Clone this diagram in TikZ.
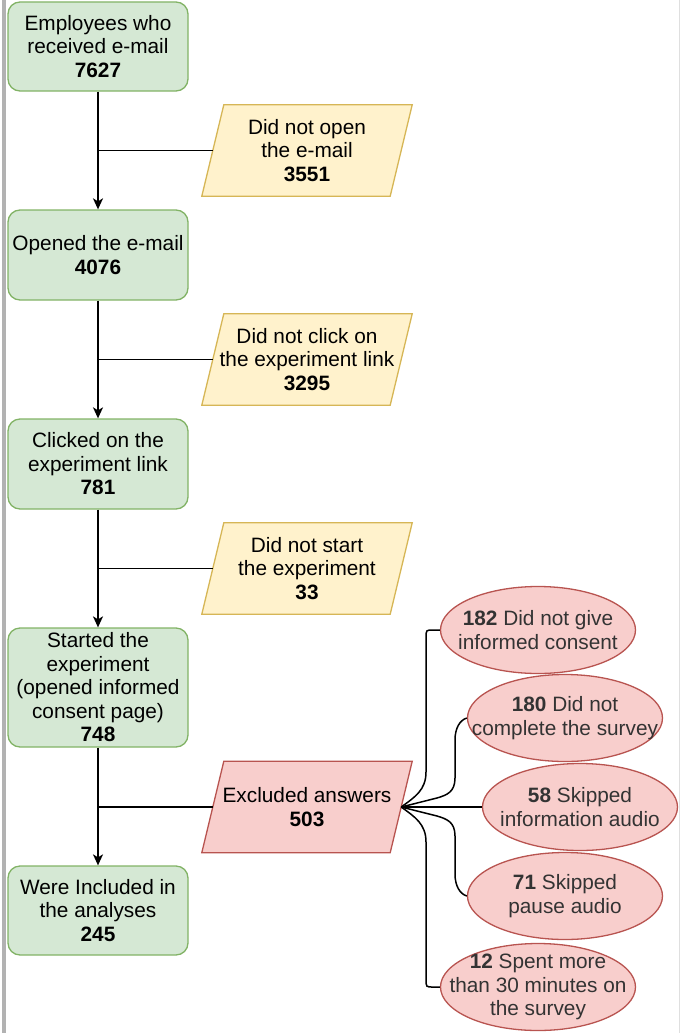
\documentclass[tikz,border=0pt]{standalone}
\usepackage{fontspec}
\setmainfont{Liberation Sans}
\usetikzlibrary{shapes.geometric,arrows.meta}
\definecolor{gfill}{HTML}{D5E8D4}
\definecolor{gline}{HTML}{82B366}
\definecolor{yfill}{HTML}{FFF2CC}
\definecolor{yline}{HTML}{D6B656}
\definecolor{rfill}{HTML}{F8CECC}
\definecolor{rline}{HTML}{B85450}
\definecolor{etext}{HTML}{333333}
\begin{document}
\begin{tikzpicture}[x=1pt,y=-1pt,
  font=\fontsize{20.8}{23.5}\selectfont,
  gbox/.style={draw=gline, fill=gfill, rounded corners=12pt, line width=1.3pt,
    minimum width=180pt, align=center, inner sep=2pt},
  pbox/.style={rectangle, minimum width=188pt, minimum height=91pt, inner sep=0pt},
  ypara/.style={draw=yline, fill=yfill, line width=1.3pt},
  rpara/.style={draw=rline, fill=rfill, line width=1.3pt},
  ell/.style={ellipse, draw=rline, fill=rfill, line width=1.3pt,
    minimum width=195pt, minimum height=87pt, inner sep=0pt},
  ctext/.style={align=center, inner sep=0pt},
  etxt/.style={align=center, inner sep=0pt, text=etext},
  conn/.style={line width=1.5pt, draw=black},
  arr/.style={conn, -{Stealth[length=11pt,width=10pt,inset=3pt]}}
]
\useasboundingbox (0,0) rectangle (682,1033);
\fill[gray!60] (1.5,0) rectangle (6,1033);
\fill[gray!25] (678.5,0) rectangle (680,1033);

% main boxes
\node[gbox, minimum height=89pt] (b1) at (98,46.5) {Employees who\\received e-mail\\\textbf{7627}};
\node[gbox, minimum height=90pt] (b2) at (98,255) {Opened the e-mail\\\textbf{4076}};
\node[gbox, minimum height=90pt] (b3) at (98,464) {Clicked on the\\experiment link\\\textbf{781}};
\node[gbox, minimum height=119pt] (b4) at (98,687.5) {Started the\\experiment\\(opened informed\\consent page)\\\textbf{748}};
\node[gbox, minimum height=89pt] (b5) at (98,910.5) {Were Included in\\the analyses\\\textbf{245}};

% side parallelograms (frame node + slanted outline + text)
\node[pbox] (p1) at (307,150.5) {};
\filldraw[ypara] ([xshift=11pt]p1.north west) -- ([xshift=11pt]p1.north east)
  -- ([xshift=-11pt]p1.south east) -- ([xshift=-11pt]p1.south west) -- cycle;
\node[ctext] (p1t) at (p1.center) {Did not open\\the e-mail\\\textbf{3551}};
\node[pbox] (p2) at (307,359.5) {};
\filldraw[ypara] ([xshift=11pt]p2.north west) -- ([xshift=11pt]p2.north east)
  -- ([xshift=-11pt]p2.south east) -- ([xshift=-11pt]p2.south west) -- cycle;
\node[ctext] (p2t) at (p2.center) {Did not click on\\the experiment link\\\textbf{3295}};
\node[pbox] (p3) at (307,568.5) {};
\filldraw[ypara] ([xshift=11pt]p3.north west) -- ([xshift=11pt]p3.north east)
  -- ([xshift=-11pt]p3.south east) -- ([xshift=-11pt]p3.south west) -- cycle;
\node[ctext] (p3t) at (p3.center) {Did not start\\the experiment\\\textbf{33}};
\node[pbox] (p4) at (307,807) {};
\filldraw[rpara] ([xshift=11pt]p4.north west) -- ([xshift=11pt]p4.north east)
  -- ([xshift=-11pt]p4.south east) -- ([xshift=-11pt]p4.south west) -- cycle;
\node[ctext] (p4t) at (p4.center) {Excluded answers\\\textbf{503}};

% ellipses
\node[ell] (e1) at (538,630) {};
\node[etxt] (e1t) at (e1.center) {\textbf{182} Did not give\\informed consent};
\node[ell] (e2) at (565,718) {};
\node[etxt] (e2t) at (e2.center) {\textbf{180} Did not\\complete the survey};
\node[ell] (e3) at (580,807) {};
\node[etxt] (e3t) at (e3.center) {\textbf{58} Skipped\\information audio};
\node[ell] (e4) at (565,896) {};
\node[etxt] (e4t) at (e4.center) {\textbf{71} Skipped\\pause audio};
\node[ell] (e5) at (538,987) {};
\node[etxt] (e5t) at (e5.center) {\textbf{12} Spent more\\than 30 minutes on\\the survey};

% main flow
\draw[arr] (b1.south) -- (b2.north);
\draw[arr] (b2.south) -- (b3.north);
\draw[arr] (b3.south) -- (b4.north);
\draw[arr] (b4.south) -- (b5.north);
\draw[conn] (p1.west) -- (p1.west -| b1.south);
\draw[conn] (p2.west) -- (p2.west -| b2.south);
\draw[conn] (p3.west) -- (p3.west -| b3.south);
\draw[conn] (p4.west) -- (p4.west -| b4.south);

% exclusion connectors
\draw[conn] (e1.west) -- (433,630) .. controls (426,630) .. (426,638) -- (426,772)
  .. controls (426,790) and (415,797) .. (p4.east);
\draw[conn] (e2.west) .. controls (460,720) and (455,728) .. (455,740) -- (455,778)
  .. controls (455,792) and (447,795) .. (437,798) -- (p4.east);
\draw[conn] (e3.west) -- (p4.east);
\draw[conn] (e4.west) .. controls (460,894) and (455,886) .. (455,874) -- (455,836)
  .. controls (455,822) and (447,819) .. (437,816) -- (p4.east);
\draw[conn] (e5.west) -- (433,987) .. controls (426,987) .. (426,979) -- (426,842)
  .. controls (426,824) and (415,817) .. (p4.east);
\end{tikzpicture}
\end{document}
